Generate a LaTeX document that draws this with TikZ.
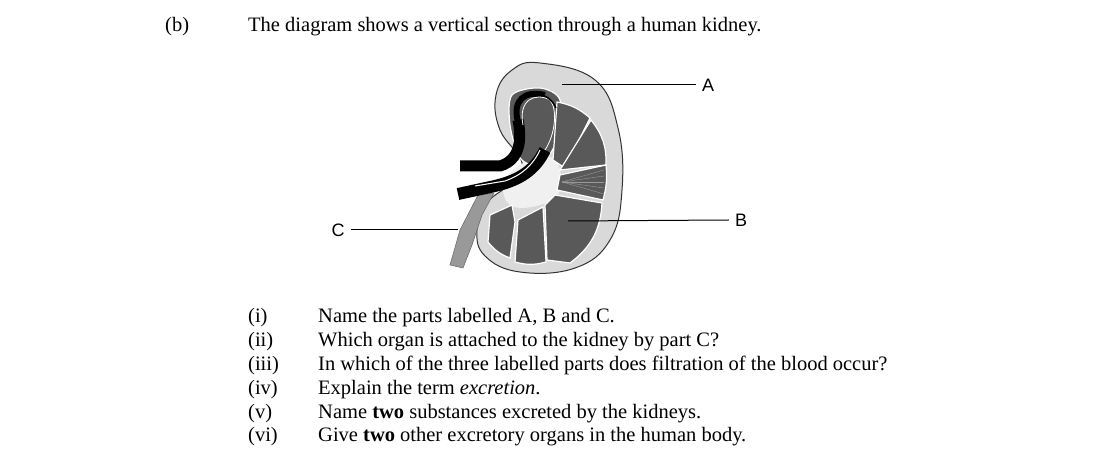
\documentclass[tikz,border=0pt]{standalone}
\usepackage{fontspec}
\setmainfont{Liberation Serif}
\newfontfamily\labelfont{Liberation Sans}
\begin{document}
\begin{tikzpicture}[x=1pt,y=-1pt,
  txt/.style={anchor=west,inner sep=0pt,font=\fontsize{20.5}{22}\selectfont},
  lbl/.style={inner sep=6pt,font=\labelfont\fontsize{18}{20}\selectfont},
  pyr/.style={fill=black!65,draw=white,line width=1.2pt},
  vessel/.style={draw=black}]
\useasboundingbox (0,0) rectangle (1116,470);

\node[txt] (b) at (165,27) {(b)};
\node[txt] (intro) at (248,27) {The diagram shows a vertical section through a human kidney.};

% kidney body
\fill[black!15,draw=black!80,line width=1pt] plot[smooth cycle,tension=0.7] coordinates {
  (540,63) (595,80) (618,128) (622,190) (610,240) (575,268) (520,272)
  (485,256) (477,230) (487,203) (508,185) (522,163) (500,130) (496,95) (512,70)};
% pelvis
\fill[black!6] plot[smooth cycle,tension=0.7] coordinates {
  (505,180) (530,160) (555,160) (560,190) (540,205) (510,205)};
% pyramids
\filldraw[pyr] plot[smooth cycle] coordinates {(512,95) (540,88) (560,100) (557,140) (540,165) (520,158) (510,125)};
\filldraw[pyr] (557,102) to[bend left=15] (590,118) -- (565,168) -- (553,160) -- cycle;
\filldraw[pyr] (591,120) to[bend left=20] (606,165) -- (560,170) -- cycle;
\filldraw[pyr] (606,165) to[bend left=10] (603,200) -- (557,190) -- (560,175) -- cycle;
\foreach \y in {170,176,182,188,194}
  \draw[black!40,line width=0.4pt] (562,182) -- (604,\y);
\filldraw[pyr] (602,203) to[bend left=25] (570,263) -- (547,260) -- (545,205) -- (555,195) -- cycle;
\filldraw[pyr] (543,207) -- (546,262) to[bend left=15] (515,262) -- (518,220) -- cycle;
\filldraw[pyr] (512,205) -- (515,222) -- (510,258) to[bend left=15] (488,242) -- (490,215) -- cycle;
% ureter
\fill[black!40,draw=black!60,line width=0.5pt] (478,195) -- (494,193) -- (482,215) -- (472,245) -- (463,268) -- (450,265) -- (460,230) -- cycle;
% vessels
\draw[vessel,line width=11pt] (460,166) -- (500,166) .. controls (520,160) and (522,140) .. (518,120);
\draw[vessel,line width=6pt] (518,122) .. controls (512,100) and (525,90) .. (545,95);
\draw[vessel,line width=12pt] (458,194) -- (495,186) .. controls (520,180) and (535,170) .. (545,150);
\draw[white,line width=1pt] (475,186) -- (505,181) .. controls (522,175) and (533,165) .. (540,150);
\draw[white,line width=0.8pt] (523,125) .. controls (518,100) and (535,92) .. (550,100) .. controls (558,110) and (555,135) .. (545,150);
\draw[vessel,line width=1.5pt] (526,96) .. controls (540,90) and (552,98) .. (556,108);

% labels
\coordinate (pA) at (562,85);
\coordinate (pB) at (568,221);
\coordinate (pC) at (458,230);
\node[lbl] (A) at (708,85) {A};
\node[lbl] (B) at (741,220) {B};
\node[lbl] (C) at (338,230) {C};
\draw[line width=1pt] (pA) -- (A.west);
\draw[line width=1pt] (pB) -- (B.west);
\draw[line width=1pt] (C.east) -- (pC);

% questions
\foreach \n/\r/\q in {
  1/(i)/{Name the parts labelled A, B and C.},
  2/(ii)/{Which organ is attached to the kidney by part C?},
  3/(iii)/{In which of the three labelled parts does filtration of the blood occur?},
  4/(iv)/{Explain the term \textit{excretion}.},
  5/(v)/{Name \textbf{two} substances excreted by the kidneys.},
  6/(vi)/{Give \textbf{two} other excretory organs in the human body.}} {
  \node[txt] (r\n) at (248,294.2+23.8*\n) {\r};
  \node[txt] (q\n) at (318,294.2+23.8*\n) {\q};
}
\end{tikzpicture}
\end{document}
